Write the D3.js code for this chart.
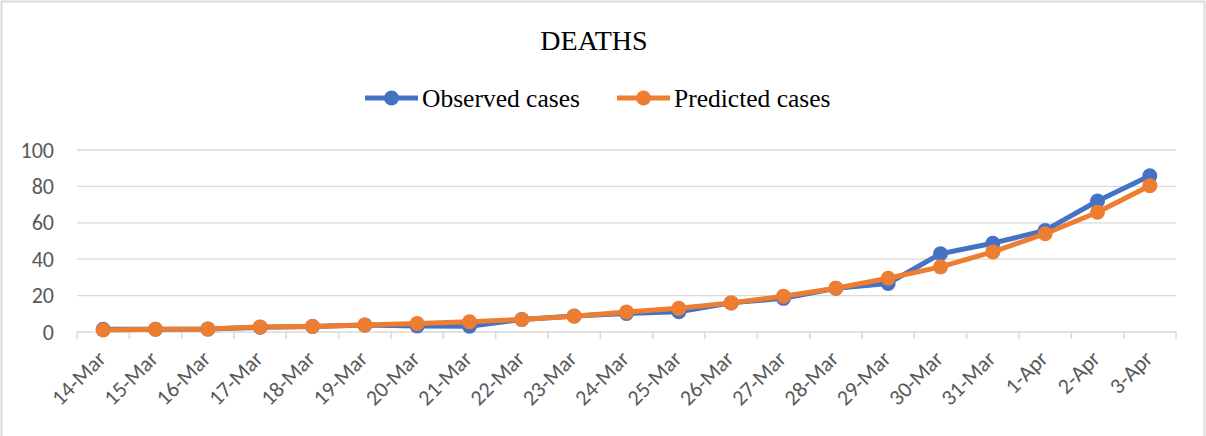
<!DOCTYPE html>
<html>
<head>
<meta charset="utf-8">
<script src="https://cdn.jsdelivr.net/npm/d3@7"></script>
<style>
html,body{margin:0;padding:0;background:#fff;}
svg{display:block;}
</style>
</head>
<body>
<svg id="chart" width="1206" height="436"></svg>
<script>
const categories = ["14-Mar","15-Mar","16-Mar","17-Mar","18-Mar","19-Mar","20-Mar","21-Mar","22-Mar","23-Mar","24-Mar","25-Mar","26-Mar","27-Mar","28-Mar","29-Mar","30-Mar","31-Mar","1-Apr","2-Apr","3-Apr"];
const observed = [1.5,1.5,1.6,2.6,3,3.8,3.3,3.2,6.9,8.8,10.2,11.1,16,18.5,24,26.7,43,48.8,55.8,72,85.8];
const predicted = [1.1,1.5,1.7,2.8,3,3.8,4.7,5.6,6.9,8.7,11,13,16,19.7,24,29.5,35.8,44,54,65.8,80.4];
const yTicks = [0,20,40,60,80,100];
const seriesNames = ["Observed cases","Predicted cases"];
const colors = ["#4472C4","#ED7D31"];

const svg = d3.select("#chart");
const W = 1206, H = 436;
const m = {left:77, right:30, top:150, bottom:104};
const axisFont = "Carlito, Calibri, 'Liberation Sans', sans-serif";
const serif = "'Liberation Serif', 'Times New Roman', serif";

// chart border
svg.append("rect").attr("x",1.5).attr("y",1.5).attr("width",1203).attr("height",H+10)
  .attr("fill","none").attr("stroke","#d9d9d9").attr("stroke-width",2);

const x = d3.scaleBand().domain(categories).range([m.left, W - m.right]);
const y = d3.scaleLinear().domain([0,100]).range([H - m.bottom, m.top]);

// gridlines
svg.append("g").selectAll("line").data(yTicks.filter(d=>d>0)).join("line")
  .attr("x1", m.left).attr("x2", W - m.right)
  .attr("y1", d=>y(d)).attr("y2", d=>y(d))
  .attr("stroke","#d9d9d9").attr("stroke-width",1.3);

// y axis labels
const yAxis = d3.axisLeft(y).tickValues(yTicks).tickSize(0).tickPadding(23);
const gy = svg.append("g").attr("transform",`translate(${m.left},0)`).call(yAxis);
gy.select(".domain").remove();
gy.selectAll("text").attr("font-family",axisFont).attr("font-size","22px").attr("fill","#595959");

// x axis
const gx = svg.append("g").attr("transform",`translate(0,${y(0)})`);
gx.append("line").attr("x1",m.left).attr("x2",W-m.right).attr("y1",0).attr("y2",0)
  .attr("stroke","#d9d9d9").attr("stroke-width",1.5);
const bounds = categories.map(c=>x(c)).concat([x(categories[categories.length-1]) + x.bandwidth()]);
gx.selectAll("line.tick").data(bounds).join("line").attr("class","tick")
  .attr("x1",d=>d).attr("x2",d=>d).attr("y1",0).attr("y2",7)
  .attr("stroke","#d9d9d9").attr("stroke-width",1.5);
gx.selectAll("text").data(categories).join("text")
  .attr("transform", d=>`translate(${x(d)+x.bandwidth()/2+4},${28}) rotate(-45)`)
  .attr("text-anchor","end")
  .attr("font-family",axisFont).attr("font-size","22px").attr("fill","#595959")
  .text(d=>d);

// lines
const series = [observed, predicted];
const line = d3.line().x((d,i)=>x(categories[i])+x.bandwidth()/2).y(d=>y(d));
series.forEach((s,k)=>{
  svg.append("path").datum(s).attr("d",line).attr("fill","none")
    .attr("stroke",colors[k]).attr("stroke-width",5).attr("stroke-linejoin","round");
  svg.append("g").selectAll("circle").data(s).join("circle")
    .attr("cx",(d,i)=>x(categories[i])+x.bandwidth()/2).attr("cy",d=>y(d))
    .attr("r",7.5).attr("fill",colors[k]);
});

// title
svg.append("text").attr("x",594).attr("y",50).attr("text-anchor","middle")
  .attr("font-family",serif).attr("font-size","28px").attr("fill","#000")
  .text("DEATHS");

// legend
const legX = [365, 617];
seriesNames.forEach((n,k)=>{
  const g = svg.append("g").attr("transform",`translate(${legX[k]},98)`);
  g.append("line").attr("x1",0).attr("x2",53).attr("y1",0).attr("y2",0)
    .attr("stroke",colors[k]).attr("stroke-width",5);
  g.append("circle").attr("cx",26.5).attr("cy",0).attr("r",7.5).attr("fill",colors[k]);
  g.append("text").attr("x",57).attr("y",8.5)
    .attr("font-family",serif).attr("font-size","25.5px").attr("fill","#000")
    .text(n);
});
</script>
</body>
</html>
